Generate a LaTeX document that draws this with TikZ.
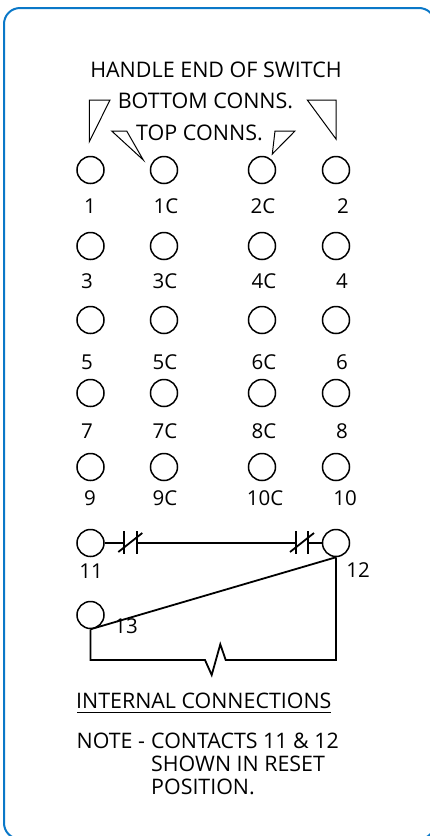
\documentclass[tikz,border=0pt]{standalone}
\usepackage{fontspec}
\setmainfont{Open Sans}
\definecolor{frameblue}{HTML}{0A78C8}
\tikzset{
  term/.style={circle,draw=black,line width=1.5pt,minimum size=27pt,inner sep=0pt},
  lbl/.style={inner sep=0pt,anchor=base,font=\fontsize{20.5}{20.5}\selectfont},
  txt/.style={inner sep=0pt,anchor=base,font=\fontsize{21.5}{21.5}\selectfont},
  txtl/.style={inner sep=0pt,anchor=base west,font=\fontsize{21.4}{21.4}\selectfont},
  wire/.style={line width=1.8pt,line join=miter},
  thin tri/.style={line width=1pt,line join=miter}
}
\begin{document}
\begin{tikzpicture}[x=1pt,y=-1pt]
\useasboundingbox (0,0) rectangle (430,836);
\draw[frameblue,line width=2pt,rounded corners=16pt] (4,8) rectangle (435,839);
% headings
\node[txt] (h1) at (216,77.5) {HANDLE END OF SWITCH};
\node[txt] (h2) at (205.5,108.5) {BOTTOM CONNS.};
\node[txt] (h3) at (199.5,140.5) {TOP CONNS.};
% pointer triangles
\draw[thin tri] (89.3,141.7) -- (89.3,100) -- (110,100) -- cycle;
\draw[thin tri] (143.3,160) -- (111.7,131) -- (126.7,131) -- cycle;
\draw[thin tri] (272.3,154) -- (275,131) -- (295,131) -- cycle;
\draw[thin tri] (336,139) -- (336,100) -- (307.3,100) -- cycle;
% terminals
\foreach \nm/\x/\y in {1/90.5/170,1C/164/170,2C/262/170,2/336/170,
  3/90.5/246,3C/164/246,4C/262/246,4/336/246,
  5/90.5/320,5C/164/320,6C/262/320,6/336/320,
  7/90.5/393,7C/164/393,8C/262/393,8/336/393,
  9/90.5/467,9C/164/467,10C/262/467,10/336/467,
  11/90.5/543,12/336/543,13/90.5/615}
  \node[term] (t\nm) at (\x,\y) {};
% labels
\foreach \t/\x/\y in {1/90/213.5,1C/166/213.5,2C/263/213.5,2/343/213.5,
  3/87/288.5,3C/165/288.5,4C/264/288.5,4/342/288.5,
  5/87/369.5,5C/165/369.5,6C/264/369.5,6/342/369.5,
  7/87/438.5,7C/165/438.5,8C/264/438.5,8/342/438.5,
  9/90/505.5,9C/165/505.5,10C/265/505.5,10/345/505.5,
  11/91/578.5,12/358/577.5,13/126/633.5}
  \node[lbl] (l\t) at (\x,\y) {\t};
% contacts
\coordinate (a1) at (124.3,543);
\coordinate (a2) at (136.7,543);
\coordinate (b1) at (296,543);
\coordinate (b2) at (308.3,543);
\draw[wire] (t11.east) -- (a1);
\draw[wire] (a2) -- (b1);
\draw[wire] (b2) -- (t12.west);
\draw[wire] (124.3,531) -- (124.3,554);
\draw[wire] (136.7,531) -- (136.7,554);
\draw[wire] (118.3,552) -- (142.3,533);
\draw[wire] (296,531) -- (296,554);
\draw[wire] (308.3,531) -- (308.3,554);
\draw[wire] (290,552) -- (314,533);
% links
\draw[wire] (t13.south) -- (t12.south);
\draw[wire] (t12.south) -- (336,660) -- (225.7,660) -- (220.3,644.3) -- (211.7,675) -- (205,660) -- (90.5,660) -- (t13.south);
% notes
\node[txtl] (n1) at (76,708) {INTERNAL CONNECTIONS};
\draw[line width=1.2pt] (77,712.5) -- (331,712.5);
\node[txtl] (n2) at (76.5,748) {NOTE -};
\node[txtl] (n3) at (151,748) {CONTACTS 11 \& 12};
\node[txtl] (n4) at (151,771) {SHOWN IN RESET};
\node[txtl] (n5) at (151,794) {POSITION.};
\end{tikzpicture}
\end{document}
